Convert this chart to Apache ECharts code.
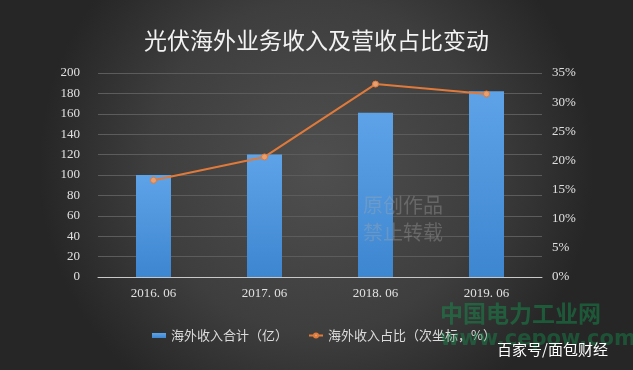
<!DOCTYPE html>
<html><head><meta charset="utf-8">
<script src="https://cdn.jsdelivr.net/npm/echarts@6/dist/echarts.min.js"></script>
<style>html,body{margin:0;padding:0;background:#333;}#c{width:633px;height:370px;}</style>
</head><body><div id="c"></div>
<script>
const categories = ['2016. 06', '2017. 06', '2018. 06', '2019. 06'];
const revenue = [100, 120, 161, 182];
const share = [16.6, 20.6, 33.1, 31.4];
const leftTicks = [0, 200, 20];
const rightTicks = [0, 35, 5];

const chart = echarts.init(document.getElementById('c'));
const serif = '"Liberation Serif", "DejaVu Serif", serif';
const cjk = '"Noto Sans CJK SC", sans-serif';
chart.setOption({
  backgroundColor: {
    type: 'radial', x: 0.5, y: 0.45, r: 0.75,
    colorStops: [{offset: 0, color: '#4f4f4f'}, {offset: 0.6, color: '#3e3e3e'}, {offset: 1, color: '#262626'}]
  },
  title: {
    text: '光伏海外业务收入及营收占比变动', left: 'center', top: 24,
    textStyle: {color: '#f2f2f2', fontSize: 23, fontWeight: 'normal', fontFamily: cjk}
  },
  grid: {left: 98, right: 91, top: 73, bottom: 93},
  legend: {
    top: 324, left: 147, itemGap: 20, itemWidth: 14, itemHeight: 5,
    textStyle: {color: '#dcdcdc', fontSize: 13, fontFamily: cjk},
    data: [{name: '海外收入合计（亿）', icon: 'rect'}, {name: '海外收入占比（次坐标，%）'}]
  },
  graphic: [
    {type: 'text', z: 100, left: 363, top: 192, style: {text: '原创作品\n禁止转载', fill: 'rgba(170,170,170,0.35)', fontSize: 20, lineHeight: 27, fontFamily: cjk}},
    {type: 'text', z: 100, left: 440, top: 302, style: {text: '中国电力工业网', fill: 'rgba(20,150,80,0.45)', fontSize: 23, fontWeight: 'bold', fontFamily: cjk}},
    {type: 'text', z: 100, left: 440, top: 329, style: {text: 'www.cepow.com', fill: 'rgba(20,150,80,0.4)', fontSize: 21, fontWeight: 'bold', fontFamily: '"DejaVu Sans", sans-serif'}},
    {type: 'text', z: 101, left: 497, top: 342, style: {text: '百家号/面包财经', fill: '#ffffff', fontSize: 15, fontFamily: cjk}}
  ],
  xAxis: {
    type: 'category', data: categories,
    axisLine: {lineStyle: {color: '#c8c8c8', width: 1}},
    axisTick: {show: false},
    axisLabel: {color: '#e0e0e0', fontSize: 13, fontFamily: serif, margin: 10}
  },
  yAxis: [
    {
      type: 'value', min: leftTicks[0], max: leftTicks[1], interval: leftTicks[2],
      axisLine: {show: false}, axisTick: {show: false},
      axisLabel: {color: '#e0e0e0', fontSize: 13, fontFamily: serif, margin: 18},
      splitLine: {lineStyle: {color: '#5c5c5c', width: 1}}
    },
    {
      type: 'value', min: rightTicks[0], max: rightTicks[1], interval: rightTicks[2],
      axisLine: {show: false}, axisTick: {show: false},
      axisLabel: {color: '#e0e0e0', fontSize: 13, fontFamily: serif, margin: 10, formatter: '{value}%'},
      splitLine: {show: false}
    }
  ],
  series: [
    {
      name: '海外收入合计（亿）', type: 'bar', data: revenue, barWidth: 35,
      itemStyle: {color: {type: 'linear', x: 0, y: 0, x2: 0, y2: 1, colorStops: [{offset: 0, color: '#5ea3e8'}, {offset: 1, color: '#3d86d0'}]}}
    },
    {
      name: '海外收入占比（次坐标，%）', type: 'line', yAxisIndex: 1, data: share,
      symbol: 'circle', symbolSize: 6,
      lineStyle: {color: '#e07a3a', width: 2},
      itemStyle: {color: '#e8a070', borderColor: '#e07a3a', borderWidth: 1}
    }
  ]
});
</script></body></html>
